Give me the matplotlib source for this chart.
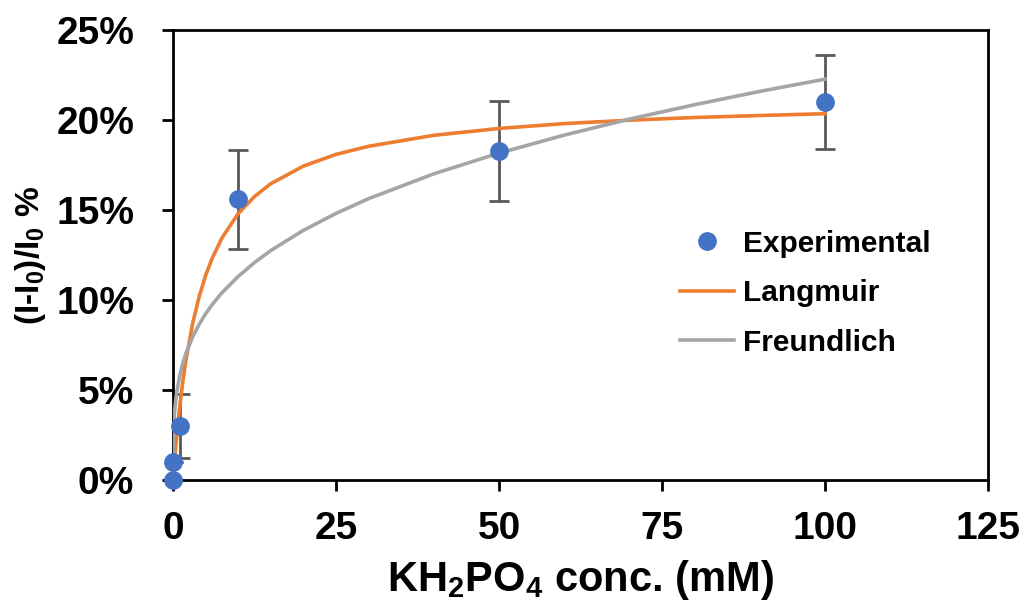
import matplotlib
matplotlib.use("Agg")
import matplotlib.pyplot as plt
from matplotlib.ticker import FuncFormatter

plt.rcParams['font.family'] = ['Liberation Sans', 'DejaVu Sans']
plt.rcParams['font.weight'] = 'bold'
plt.rcParams['axes.labelweight'] = 'bold'
plt.rcParams['mathtext.default'] = 'regular'

# Messpunkter (konsentrasjon i mM, respons i %)
conc = [0, 0, 1, 10, 50, 100]
resp = [0.0, 1.0, 3.0, 15.6, 18.3, 21.0]
feil = [0.0, 0.0, 1.8, 2.75, 2.78, 2.6]

# kurver lest av figuren
kurve_x = [0, 0.05, 0.1, 0.25, 0.5, 1, 1.5, 2, 3, 4, 5, 6, 7.5, 10, 12.5, 15,
           20, 25, 30, 40, 50, 60, 70, 80, 90, 100]
langmuir = [0, 0.24, 0.48, 1.15, 2.19, 3.97, 5.45, 6.69, 8.67, 10.17, 11.36,
            12.31, 13.44, 14.8, 15.75, 16.46, 17.44, 18.09, 18.54, 19.15,
            19.53, 19.80, 19.99, 20.14, 20.25, 20.35]
freundlich = [0, 2.38, 2.92, 3.83, 4.69, 5.75, 6.48, 7.05, 7.94, 8.64, 9.23,
              9.74, 10.40, 11.31, 12.08, 12.75, 13.87, 14.81, 15.63, 17.01,
              18.16, 19.16, 20.05, 20.85, 21.59, 22.27]

xticks = [0, 25, 50, 75, 100, 125]
yticks = [0, 5, 10, 15, 20, 25]

fig = plt.figure(figsize=(10.26, 6.15), dpi=100)
ax = fig.add_axes([0.1686, 0.2195, 0.7944, 0.7317])

ax.errorbar(conc, resp, yerr=feil, fmt='none', ecolor='#595959',
            elinewidth=2, capsize=7, capthick=2, zorder=2)
ax.plot(kurve_x, langmuir, color='#ED7D31', lw=2.6, label='Langmuir', zorder=3)
ax.plot(kurve_x, freundlich, color='#A5A5A5', lw=2.6, label='Freundlich', zorder=3)
ax.plot(conc, resp, 'o', color='#4472C4', ms=12.5, label='Experimental',
        clip_on=False, zorder=4)

ax.set_xlim(0, 125)
ax.set_ylim(0, 25)
ax.set_xticks(xticks)
ax.set_yticks(yticks)
ax.yaxis.set_major_formatter(FuncFormatter(lambda v, p: f"{v:.0f}%"))
ax.tick_params(direction='out', length=8, width=2, labelsize=28)
ax.tick_params(axis='y', pad=20)
ax.tick_params(axis='x', pad=14)
for s in ax.spines.values():
    s.set_linewidth(2)

ax.set_xlabel('KH$_2$PO$_4$ conc. (mM)', fontsize=30, labelpad=8)
ax.set_ylabel('(I-I$_0$)/I$_0$ %', fontsize=24, labelpad=6)

h, l = ax.get_legend_handles_labels()
ax.legend([h[2], h[0], h[1]], [l[2], l[0], l[1]], loc='upper left',
          bbox_to_anchor=(0.622, 0.556), frameon=False, fontsize=21.5,
          borderpad=0, borderaxespad=0,
          handlelength=1.8, handletextpad=0.3, labelspacing=0.72)

fig.savefig('out.png', dpi=100)
